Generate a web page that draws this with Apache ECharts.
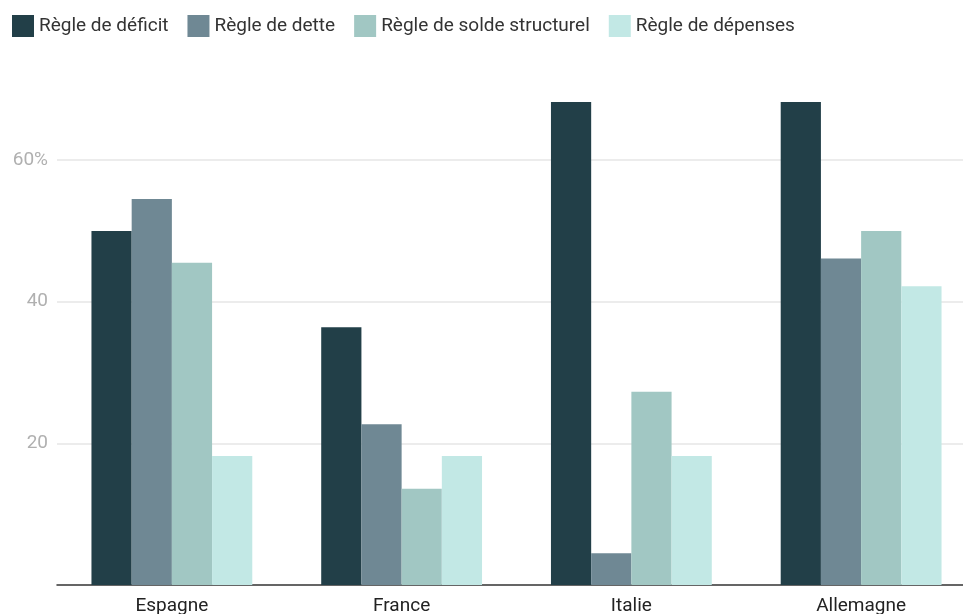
<!DOCTYPE html>
<html>
<head>
<meta charset="utf-8">
<script src="https://cdn.jsdelivr.net/npm/echarts@6/dist/echarts.min.js"></script>
<style>
  html, body { margin: 0; padding: 0; background: #fff; }
  #chart { width: 963px; height: 614px; }
</style>
</head>
<body>
<div id="chart"></div>
<script>
// données (% des pays)
const countries = ['Espagne', 'France', 'Italie', 'Allemagne'];
const deficitRule = [50.0, 36.4, 68.2, 68.2];
const debtRule = [54.5, 22.7, 4.5, 46.1];
const structuralRule = [45.5, 13.6, 27.3, 50.0];
const spendingRule = [18.2, 18.2, 18.2, 42.2];
const seriesNames = ['Règle de déficit', 'Règle de dette', 'Règle de solde structurel', 'Règle de dépenses'];
const colors = ['#223f48', '#6f8894', '#a1c7c3', '#c2e8e5'];

const chart = echarts.init(document.getElementById('chart'));

const option = {
    color: colors,
    textStyle: { fontFamily: 'Roboto' },
    legend: {
        left: 12,
        top: 15,
        padding: 0,
        itemWidth: 22,
        itemHeight: 22,
        itemGap: 19,
        icon: 'rect',
        textStyle: { fontSize: 19, color: '#333' },
        data: seriesNames
    },
    // la zone de tracé dépasse à droite, comme sur l'original
    grid: { left: 57, top: 102, width: 919, bottom: 29, outerBoundsMode: 'none', containLabel: false },
    xAxis: {
        type: 'category',
        data: countries,
        axisLine: { lineStyle: { color: '#333', width: 1.5 } },
        axisTick: { show: false },
        axisLabel: { fontSize: 19, color: '#222', margin: 12 }
    },
    yAxis: {
        type: 'value',
        min: 0,
        max: 68.2,
        interval: 20,
        axisLine: { show: false },
        axisTick: { show: false },
        axisLabel: {
            showMinLabel: false,
            showMaxLabel: false,
            fontSize: 19,
            color: '#b0b0b0',
            margin: 9,
            formatter: v => v === 60 ? '60%' : String(v)
        },
        splitLine: {
            showMinLine: false,
            showMaxLine: false,
            lineStyle: { color: '#e6e6e6', width: 1.5 }
        }
    },
    series: [deficitRule, debtRule, structuralRule, spendingRule].map((d, i) => ({
        name: seriesNames[i],
        type: 'bar',
        data: d,
        barGap: '0%',
        barCategoryGap: '30%'
    }))
};

chart.setOption(option);
</script>
</body>
</html>
